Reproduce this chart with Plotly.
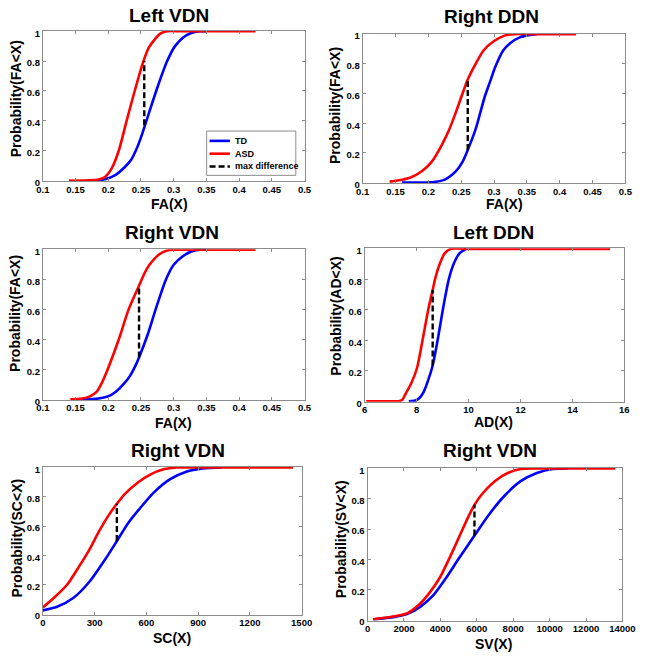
import plotly.graph_objects as go

# ---------------- data ----------------
titles = ["Left VDN", "Right DDN", "Right VDN", "Left DDN", "Right VDN", "Right VDN"]
xtitles = ["FA(X)", "FA(X)", "FA(X)", "AD(X)", "SC(X)", "SV(X)"]
ytitles = ["Probability(FA<X)", "Probability(FA<X)", "Probability(FA<X)",
           "Probability(AD<X)", "Probability(SC<X)", "Probability(SV<X)"]
legend_labels = ["TD", "ASD", "max difference"]

# Panel 1: Left VDN (FA)
p1_td_x = [0.180, 0.195, 0.210, 0.225, 0.235, 0.243, 0.250, 0.259, 0.274, 0.290, 0.302, 0.315, 0.325, 0.340, 0.350]
p1_td_y = [0.0, 0.01, 0.035, 0.09, 0.14, 0.21, 0.29, 0.41, 0.61, 0.80, 0.90, 0.96, 0.985, 1.0, 1.0]
p1_asd_x = [0.140, 0.155, 0.170, 0.185, 0.195, 0.205, 0.216, 0.228, 0.241, 0.253, 0.262, 0.272, 0.280, 0.290, 0.310, 0.350, 0.425]
p1_asd_y = [0.0, 0.0, 0.002, 0.008, 0.025, 0.08, 0.20, 0.40, 0.61, 0.79, 0.89, 0.95, 0.985, 1.0, 1.0, 1.0, 1.0]
p1_diff_x = [0.255, 0.255]
p1_diff_y = [0.37, 0.80]

# Panel 2: Right DDN (FA)
p2_td_x = [0.160, 0.185, 0.205, 0.225, 0.242, 0.252, 0.260, 0.272, 0.279, 0.286, 0.294, 0.302, 0.314, 0.325, 0.340, 0.355, 0.365]
p2_td_y = [0.0, 0.0, 0.002, 0.02, 0.077, 0.14, 0.22, 0.36, 0.47, 0.58, 0.68, 0.78, 0.89, 0.94, 0.98, 0.995, 1.0]
p2_asd_x = [0.141, 0.160, 0.173, 0.190, 0.205, 0.220, 0.232, 0.242, 0.250, 0.260, 0.272, 0.284, 0.299, 0.316, 0.330, 0.360, 0.425]
p2_asd_y = [0.007, 0.02, 0.035, 0.077, 0.14, 0.25, 0.36, 0.475, 0.575, 0.695, 0.80, 0.89, 0.95, 0.99, 1.0, 1.0, 1.0]
p2_diff_x = [0.260, 0.260]
p2_diff_y = [0.22, 0.695]

# Panel 3: Right VDN (FA)
p3_td_x = [0.160, 0.185, 0.200, 0.210, 0.225, 0.233, 0.241, 0.247, 0.260, 0.273, 0.288, 0.300, 0.315, 0.328, 0.342, 0.350]
p3_td_y = [0.0, 0.005, 0.02, 0.045, 0.11, 0.155, 0.22, 0.28, 0.43, 0.61, 0.80, 0.90, 0.96, 0.99, 1.0, 1.0]
p3_asd_x = [0.142, 0.160, 0.172, 0.182, 0.189, 0.199, 0.216, 0.231, 0.247, 0.255, 0.263, 0.278, 0.290, 0.300, 0.330, 0.380, 0.425]
p3_asd_y = [0.0, 0.005, 0.02, 0.05, 0.10, 0.20, 0.40, 0.60, 0.76, 0.84, 0.90, 0.97, 0.995, 1.0, 1.0, 1.0, 1.0]
p3_diff_x = [0.247, 0.247]
p3_diff_y = [0.28, 0.76]

# Panel 4: Left DDN (AD)
p4_td_x = [7.70, 7.95, 8.10, 8.27, 8.45, 8.62, 8.83, 9.02, 9.24, 9.45, 9.65, 9.90]
p4_td_y = [0.0, 0.005, 0.02, 0.06, 0.14, 0.235, 0.42, 0.61, 0.80, 0.91, 0.97, 1.0]
p4_asd_x = [6.06, 6.5, 7.0, 7.30, 7.45, 7.58, 7.80, 8.02, 8.24, 8.46, 8.62, 8.71, 8.89, 9.08, 9.33, 10.0, 12.0, 15.45]
p4_asd_y = [0.0, 0.0, 0.0, 0.0, 0.01, 0.05, 0.12, 0.22, 0.41, 0.61, 0.73, 0.80, 0.90, 0.97, 1.0, 1.0, 1.0, 1.0]
p4_diff_x = [8.62, 8.62]
p4_diff_y = [0.235, 0.73]

# Panel 5: Right VDN (SC)
p5_td_x = [0, 82, 176, 270, 363, 429, 494, 569, 644, 738, 831, 925, 1037]
p5_td_y = [0.025, 0.049, 0.109, 0.22, 0.376, 0.498, 0.62, 0.73, 0.83, 0.92, 0.971, 0.993, 1.0]
p5_asd_x = [0, 63, 139, 213, 270, 326, 382, 429, 476, 551, 625, 700, 775, 900, 1100, 1450]
p5_asd_y = [0.045, 0.109, 0.198, 0.33, 0.44, 0.565, 0.675, 0.752, 0.82, 0.898, 0.953, 0.987, 1.0, 1.0, 1.0, 1.0]
p5_diff_x = [429, 429]
p5_diff_y = [0.498, 0.752]

# Panel 6: Right VDN (SV)
p6_td_x = [300, 1490, 2200, 2910, 3619, 4330, 5039, 5873, 6636, 7523, 8411, 9298, 10185, 11000]
p6_td_y = [0.003, 0.02, 0.04, 0.088, 0.163, 0.28, 0.41, 0.557, 0.69, 0.82, 0.916, 0.97, 0.996, 1.0]
p6_asd_x = [300, 1490, 2200, 2910, 3442, 3975, 4507, 5039, 5572, 5873, 6281, 6991, 7701, 8411, 9300, 11000, 13600]
p6_asd_y = [0.004, 0.024, 0.045, 0.11, 0.185, 0.28, 0.41, 0.55, 0.69, 0.76, 0.83, 0.916, 0.97, 0.996, 1.0, 1.0, 1.0]
p6_diff_x = [5873, 5873]
p6_diff_y = [0.557, 0.76]

panels = [
    (p1_td_x, p1_td_y, p1_asd_x, p1_asd_y, p1_diff_x, p1_diff_y),
    (p2_td_x, p2_td_y, p2_asd_x, p2_asd_y, p2_diff_x, p2_diff_y),
    (p3_td_x, p3_td_y, p3_asd_x, p3_asd_y, p3_diff_x, p3_diff_y),
    (p4_td_x, p4_td_y, p4_asd_x, p4_asd_y, p4_diff_x, p4_diff_y),
    (p5_td_x, p5_td_y, p5_asd_x, p5_asd_y, p5_diff_x, p5_diff_y),
    (p6_td_x, p6_td_y, p6_asd_x, p6_asd_y, p6_diff_x, p6_diff_y),
]

fa_ticks = [0.1, 0.15, 0.2, 0.25, 0.3, 0.35, 0.4, 0.45, 0.5]
fa_labels = ["0.1", "0.15", "0.2", "0.25", "0.3", "0.35", "0.4", "0.45", "0.5"]
ad_ticks = [6, 8, 10, 12, 14, 16]
sc_ticks = [0, 300, 600, 900, 1200, 1500]
sv_ticks = [0, 2000, 4000, 6000, 8000, 10000, 12000, 14000]
y_ticks = [0, 0.2, 0.4, 0.6, 0.8, 1]
y_labels = ["0", "0.2", "0.4", "0.6", "0.8", "1"]

x_tickvals = [fa_ticks, fa_ticks, fa_ticks, ad_ticks, sc_ticks, sv_ticks]
x_ticktext = [fa_labels, fa_labels, fa_labels,
              [str(v) for v in ad_ticks], [str(v) for v in sc_ticks], [str(v) for v in sv_ticks]]
x_ranges = [[0.1, 0.5], [0.1, 0.5], [0.1, 0.5], [6, 16], [0, 1500], [0, 14000]]

# ---------------- layout geometry (pixels) ----------------
W, H = 649, 661
boxes = [  # left, right, top, bottom in px
    (37, 307, 28, 181),
    (367, 638, 31, 183),
    (37, 307, 250, 403),
    (369, 637, 249, 405),
    (37, 304, 471, 621),
    (372, 635, 472, 627),
]
title_pos = [(167, 13), (500, 14), (170, 233), (502, 233), (176, 454), (498, 454)]
xtitle_pos = [(168, 204), (513, 204), (172, 426), (502, 425), (170, 645), (502, 651)]
ytitle_pos = [(9, 97), (339, 104), (9, 315), (340, 318), (10, 543), (344, 544)]

FONT = "Liberation Sans, Arial, sans-serif"
BLUE = "#0000FF"
RED = "#FF0000"
AXC = "#8c8c8c"
colors = [BLUE, RED, "black"]
dashes = ["solid", "solid", "6px,3px"]

fig = go.Figure()
annotations = []
shapes = []
layout = dict(
    width=W, height=H, margin=dict(l=0, r=0, t=0, b=0),
    paper_bgcolor="white", plot_bgcolor="white",
    font=dict(family=FONT, color="black"), showlegend=False,
)

for i, (tdx, tdy, ax, ay, dx, dy) in enumerate(panels):
    n = "" if i == 0 else str(i + 1)
    xa, ya = "x" + n, "y" + n
    fig.add_trace(go.Scatter(x=tdx, y=tdy, mode="lines", name="TD", xaxis=xa, yaxis=ya,
                             line=dict(color=BLUE, width=2.6, shape="spline", smoothing=0.7)))
    fig.add_trace(go.Scatter(x=ax, y=ay, mode="lines", name="ASD", xaxis=xa, yaxis=ya,
                             line=dict(color=RED, width=2.6, shape="spline", smoothing=0.7)))
    fig.add_trace(go.Scatter(x=dx, y=dy, mode="lines", name="max difference", xaxis=xa, yaxis=ya,
                             line=dict(color="black", width=2.4, dash="6px,3px")))
    l, r, t, b = boxes[i]
    axis_common = dict(showline=True, linecolor=AXC, linewidth=1, mirror="ticks",
                       ticks="inside", ticklen=3, tickcolor=AXC, showgrid=False, zeroline=False,
                       tickfont=dict(family=FONT, size=9.5, weight="bold", color="black"))
    layout["xaxis" + n] = dict(domain=[l / W, r / W], anchor=ya, range=x_ranges[i],
                               tickvals=x_tickvals[i], ticktext=x_ticktext[i],
                               ticklabelstandoff=-1, **axis_common)
    layout["yaxis" + n] = dict(domain=[1 - b / H, 1 - t / H], anchor=xa, range=[-0.004, 1.004],
                               tickvals=y_ticks, ticktext=y_labels, ticklabelshift=2, **axis_common)
    tx, ty = title_pos[i]
    annotations.append(dict(text=titles[i], x=tx / W, y=1 - ty / H, xref="paper", yref="paper",
                            showarrow=False, xanchor="center", yanchor="middle",
                            font=dict(family=FONT, size=19, weight="bold", color="black")))
    tx, ty = xtitle_pos[i]
    annotations.append(dict(text=xtitles[i], x=tx / W, y=1 - ty / H, xref="paper", yref="paper",
                            showarrow=False, xanchor="center", yanchor="middle",
                            font=dict(family=FONT, size=14, weight="bold", color="black")))
    tx, ty = ytitle_pos[i]
    annotations.append(dict(text=ytitles[i], x=tx / W, y=1 - ty / H, xref="paper", yref="paper",
                            showarrow=False, xanchor="center", yanchor="middle", textangle=-90,
                            font=dict(family=FONT, size=14, weight="bold", color="black")))

# legend box (drawn in panel 1)
shapes.append(dict(type="rect", xref="paper", yref="paper",
                   x0=206 / W, x1=298 / W, y0=1 - 175 / H, y1=1 - 130 / H,
                   line=dict(color=AXC, width=1), fillcolor="white", layer="above"))
for k, lab in enumerate(legend_labels):
    yy = 140 + k * 13
    shapes.append(dict(type="line", xref="paper", yref="paper",
                       x0=209 / W, x1=230 / W, y0=1 - yy / H, y1=1 - yy / H,
                       line=dict(color=colors[k], width=2.6, dash=dashes[k]), layer="above"))
    annotations.append(dict(text=lab, x=233 / W, y=1 - yy / H, xref="paper", yref="paper",
                            showarrow=False, xanchor="left", yanchor="middle",
                            font=dict(family=FONT, size=9, weight="bold", color="black")))

layout["annotations"] = annotations
layout["shapes"] = shapes
fig.update_layout(**layout)
fig.write_html("out.html", config={"displayModeBar": False},
               post_script="document.body.style.margin='0';document.body.style.overflow='hidden';")
